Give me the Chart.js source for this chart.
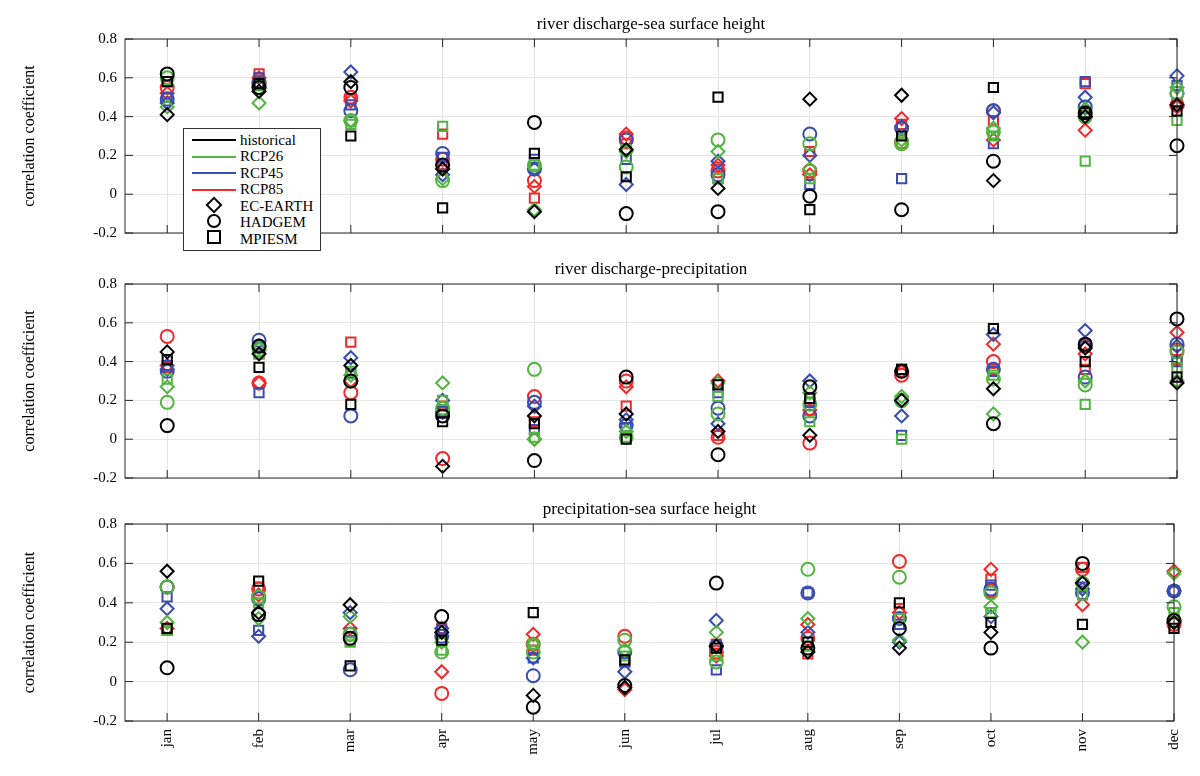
<!DOCTYPE html>
<html>
<head>
<meta charset="utf-8">
<script src="https://cdn.jsdelivr.net/npm/chart.js@4"></script>
<style>
  body { margin: 0; background: #fff; }
  #wrap { position: relative; width: 1200px; height: 776px; }
  canvas { position: absolute; left: 0; }
  #legend { position: absolute; left: 183px; top: 128px; width: 136px; background: #fff;
            border: 1px solid #333; font: 15px "Liberation Serif", serif; padding: 3px 0 2px 0; z-index: 2; }
  #legend div { height: 16.5px; display: flex; align-items: center; }
  .ln { display: inline-block; width: 44px; height: 0; border-top: 2px solid; margin: 0 4px 0 8px; }
  .mk { display: inline-block; width: 44px; margin: 0 4px 0 8px; text-align: center; }
  .mk i { display: inline-block; width: 10px; height: 10px; border: 2px solid #000; }
</style>
</head>
<body>
<div id="wrap">
  <canvas id="c1" style="top:0" width="1200" height="250"></canvas>
  <canvas id="c2" style="top:245px" width="1200" height="250"></canvas>
  <canvas id="c3" style="top:485px" width="1200" height="291"></canvas>
  <div id="legend">
    <div><span class="ln" style="border-color:#000"></span>historical</div>
    <div><span class="ln" style="border-color:#52b540"></span>RCP26</div>
    <div><span class="ln" style="border-color:#3a4cae"></span>RCP45</div>
    <div><span class="ln" style="border-color:#f02a2a"></span>RCP85</div>
    <div><span class="mk"><i style="transform:rotate(45deg);width:8px;height:8px"></i></span>EC-EARTH</div>
    <div><span class="mk"><i style="border-radius:50%"></i></span>HADGEM</div>
    <div><span class="mk"><i></i></span>MPIESM</div>
  </div>
</div>
<script>
const months = ['jan','feb','mar','apr','may','jun','jul','aug','sep','oct','nov','dec'];
const titles = ['river discharge-sea surface height', 'river discharge-precipitation', 'precipitation-sea surface height'];

// panel 1: river discharge - sea surface height
const p1HistEC  = [0.41,0.53,0.58,0.13,-0.09,0.23,0.03,0.49,0.51,0.07,0.40,0.46];
const p1HistHAD = [0.62,0.55,0.55,0.15,0.37,-0.10,-0.09,-0.01,-0.08,0.17,0.42,0.25];
const p1HistMPI = [0.58,0.57,0.30,-0.07,0.21,0.09,0.50,-0.08,0.30,0.55,0.42,0.43];
const p1R26EC   = [0.45,0.47,0.38,0.08,-0.08,0.22,0.22,0.13,0.28,0.34,0.44,0.55];
const p1R26HAD  = [0.60,0.55,0.38,0.07,0.15,0.14,0.28,0.26,0.26,0.32,0.40,0.52];
const p1R26MPI  = [0.58,0.56,0.36,0.35,0.15,0.23,0.08,0.08,0.26,0.30,0.17,0.38];
const p1R45EC   = [0.47,0.57,0.63,0.10,0.13,0.05,0.17,0.20,0.35,0.42,0.50,0.61];
const p1R45HAD  = [0.49,0.57,0.43,0.21,0.13,0.28,0.10,0.31,0.34,0.43,0.45,0.52];
const p1R45MPI  = [0.50,0.60,0.46,0.19,0.18,0.18,0.08,0.05,0.08,0.26,0.58,0.56];
const p1R85EC   = [0.52,0.60,0.48,0.15,0.04,0.31,0.15,0.10,0.39,0.28,0.33,0.45];
const p1R85HAD  = [0.55,0.58,0.50,0.18,0.07,0.29,0.12,0.12,0.27,0.43,0.40,0.46];
const p1R85MPI  = [0.58,0.62,0.49,0.31,-0.02,0.26,0.14,0.22,0.36,0.38,0.57,0.47];

// panel 2: river discharge - precipitation
const p2HistEC  = [0.45,0.44,0.38,-0.14,0.12,0.13,0.04,0.02,0.20,0.26,0.47,0.29];
const p2HistHAD = [0.07,0.48,0.30,0.12,-0.11,0.32,-0.08,0.27,0.35,0.08,0.49,0.62];
const p2HistMPI = [0.41,0.37,0.18,0.09,0.08,0.00,0.28,0.21,0.36,0.57,0.40,0.32];
const p2R26EC   = [0.27,0.47,0.33,0.29,0.00,0.04,0.29,0.24,0.22,0.13,0.30,0.30];
const p2R26HAD  = [0.19,0.46,0.30,0.16,0.36,0.01,0.13,0.18,0.20,0.31,0.28,0.45];
const p2R26MPI  = [0.31,0.44,0.35,0.20,0.01,0.01,0.22,0.09,0.00,0.33,0.18,0.37];
const p2R45EC   = [0.36,0.48,0.42,0.20,0.17,0.10,0.08,0.30,0.12,0.54,0.56,0.48];
const p2R45HAD  = [0.35,0.51,0.12,0.14,0.19,0.07,0.16,0.12,0.20,0.36,0.32,0.49];
const p2R45MPI  = [0.38,0.24,0.34,0.15,0.05,0.06,0.24,0.19,0.02,0.35,0.48,0.40];
const p2R85EC   = [0.38,0.29,0.30,0.14,0.00,0.27,0.30,0.15,0.35,0.49,0.44,0.55];
const p2R85HAD  = [0.53,0.29,0.24,-0.10,0.22,0.30,0.01,-0.02,0.33,0.40,0.48,0.46];
const p2R85MPI  = [0.37,0.44,0.50,0.17,0.09,0.17,0.02,0.15,0.36,0.36,0.36,0.41];

// panel 3: precipitation - sea surface height
const p3HistEC  = [0.56,0.35,0.39,0.25,-0.07,-0.03,0.18,0.15,0.17,0.25,0.50,0.30];
const p3HistHAD = [0.07,0.34,0.22,0.33,-0.13,-0.02,0.50,0.17,0.27,0.17,0.60,0.31];
const p3HistMPI = [0.27,0.51,0.08,0.21,0.35,0.11,0.17,0.20,0.40,0.30,0.29,0.27];
const p3R26EC   = [0.30,0.32,0.33,0.20,0.19,0.16,0.25,0.32,0.21,0.38,0.20,0.55];
const p3R26HAD  = [0.48,0.43,0.24,0.15,0.15,0.21,0.10,0.57,0.53,0.45,0.50,0.38];
const p3R26MPI  = [0.26,0.40,0.20,0.16,0.19,0.13,0.13,0.18,0.32,0.35,0.44,0.35];
const p3R45EC   = [0.37,0.23,0.35,0.27,0.12,0.05,0.31,0.25,0.20,0.33,0.47,0.46];
const p3R45HAD  = [0.48,0.42,0.06,0.23,0.03,0.15,0.18,0.45,0.32,0.47,0.45,0.46];
const p3R45MPI  = [0.43,0.26,0.25,0.26,0.12,0.10,0.06,0.45,0.29,0.49,0.48,0.46];
const p3R85EC   = [0.27,0.44,0.27,0.05,0.24,-0.04,0.13,0.29,0.35,0.57,0.39,0.56];
const p3R85HAD  = [0.48,0.47,0.24,-0.06,0.19,0.23,0.15,0.22,0.61,0.46,0.57,0.29];
const p3R85MPI  = [0.26,0.48,0.21,0.27,0.16,0.10,0.19,0.14,0.37,0.52,0.58,0.30];

const scenColors = ['#000000', '#52b540', '#3a4cae', '#f02a2a'];
const modelStyles = ['rectRot', 'circle', 'rect'];
const modelRadius = [6.5, 6.5, 6.5];

const panels = [
  [[p1HistEC,p1HistHAD,p1HistMPI],[p1R26EC,p1R26HAD,p1R26MPI],[p1R45EC,p1R45HAD,p1R45MPI],[p1R85EC,p1R85HAD,p1R85MPI]],
  [[p2HistEC,p2HistHAD,p2HistMPI],[p2R26EC,p2R26HAD,p2R26MPI],[p2R45EC,p2R45HAD,p2R45MPI],[p2R85EC,p2R85HAD,p2R85MPI]],
  [[p3HistEC,p3HistHAD,p3HistMPI],[p3R26EC,p3R26HAD,p3R26MPI],[p3R45EC,p3R45HAD,p3R45MPI],[p3R85EC,p3R85HAD,p3R85MPI]]
];

const serif = '"Liberation Serif", "DejaVu Serif", serif';

// box, inner ticks and title, MATLAB style
const boxPlugin = {
  id: 'box',
  afterDraw(chart, args, opts) {
    const ctx = chart.ctx, a = chart.chartArea;
    const xs = chart.scales.x, ys = chart.scales.y;
    ctx.save();
    ctx.strokeStyle = '#262626';
    ctx.lineWidth = 1;
    ctx.strokeRect(a.left, a.top, a.right - a.left, a.bottom - a.top);
    ctx.beginPath();
    for (let i = 0; i < months.length; i++) {
      const x = xs.getPixelForValue(i);
      ctx.moveTo(x, a.bottom); ctx.lineTo(x, a.bottom - 8);
      ctx.moveTo(x, a.top); ctx.lineTo(x, a.top + 8);
    }
    for (let v = -0.2; v <= 0.81; v += 0.2) {
      const y = ys.getPixelForValue(v);
      ctx.moveTo(a.left, y); ctx.lineTo(a.left + 8, y);
      ctx.moveTo(a.right, y); ctx.lineTo(a.right - 8, y);
    }
    ctx.stroke();
    ctx.fillStyle = '#000';
    ctx.font = '17px ' + serif;
    ctx.textAlign = 'center';
    ctx.textBaseline = 'bottom';
    ctx.fillText(opts.text, (a.left + a.right) / 2, a.top - 6);
    ctx.restore();
  }
};

function makeChart(id, idx, showX, bottomPad) {
  const datasets = [];
  panels[idx].forEach((scen, s) => {
    scen.forEach((vals, m) => {
      datasets.push({
        data: vals.map((v, i) => ({ x: i, y: v })),
        pointStyle: modelStyles[m],
        pointRadius: modelRadius[m],
        pointBorderWidth: 2,
        borderColor: scenColors[s],
        backgroundColor: 'rgba(0,0,0,0)',
        showLine: false,
        clip: false
      });
    });
  });
  new Chart(document.getElementById(id), {
    type: 'scatter',
    data: { datasets },
    plugins: [boxPlugin],
    options: {
      responsive: false,
      animation: false,
      layout: { padding: { top: 39, right: 23, bottom: bottomPad, left: 16 } },
      plugins: { legend: { display: false }, tooltip: { enabled: false }, box: { text: titles[idx] } },
      scales: {
        x: {
          type: 'linear', min: -0.46, max: 11,
          grid: { color: '#e4e4e4', drawTicks: false },
          border: { display: false },
          afterBuildTicks: s => { s.ticks = months.map((m, i) => ({ value: i })); },
          afterFit: s => { s.height = showX ? 55 : 0; },
          ticks: {
            display: showX, minRotation: 90, maxRotation: 90, padding: 8,
            color: '#000', font: { family: serif, size: 15 },
            callback: v => months[v]
          }
        },
        y: {
          min: -0.2, max: 0.8,
          grid: { color: '#e4e4e4', drawTicks: false },
          border: { display: false },
          afterFit: s => { s.width = 109; },
          ticks: {
            stepSize: 0.2, padding: 8, color: '#000',
            font: { family: serif, size: 15 },
            callback: v => (Math.abs(v) < 1e-9 ? '0' : v.toFixed(1))
          },
          title: { display: true, text: 'correlation coefficient', color: '#000', font: { family: serif, size: 16 } }
        }
      }
    }
  });
}

makeChart('c1', 0, false, 15);
makeChart('c2', 1, false, 17);
makeChart('c3', 2, true, 0);
</script>
</body>
</html>
